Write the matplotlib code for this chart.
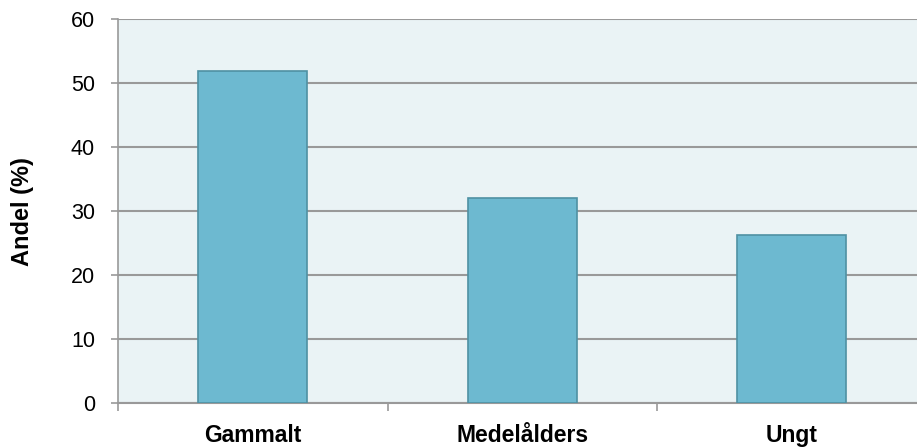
import numpy as np
import matplotlib
matplotlib.use('Agg')
import matplotlib.pyplot as plt

categories = ['Gammalt', 'Medelålders', 'Ungt']
values = [51.8, 32.1, 26.3]
yticks = [0, 10, 20, 30, 40, 50, 60]

plt.rcParams['font.family'] = ['Liberation Sans', 'DejaVu Sans']

fig = plt.figure(figsize=(9.17, 4.48), dpi=100)
# plot area runs past the right edge of the image, like the reference
ax = fig.add_axes([118 / 917, 1 - 403 / 448, 808.5 / 917, 384 / 448])
ax.set_facecolor('#EAF3F5')

x = np.arange(len(categories))
ax.bar(x, values, width=0.405, color='#6DB9D0', edgecolor='#4F91A3',
       linewidth=1.2, zorder=3)

ax.set_xlim(-0.5, len(categories) - 0.5)
ax.set_ylim(0, 60)
ax.set_yticks(yticks)
ax.yaxis.grid(True, color='#999999', linewidth=1.5, zorder=0)
ax.set_axisbelow(True)

for s in ['top', 'right']:
    ax.spines[s].set_visible(False)
ax.spines['left'].set_color('#999999')
ax.spines['left'].set_linewidth(1.2)
ax.spines['bottom'].set_color('#999999')
ax.spines['bottom'].set_linewidth(1.5)

ax.tick_params(axis='y', length=5, width=1.2, color='#999999',
               labelsize=15.5, pad=11.5)
# category ticks sit between the bars
ax.set_xticks(np.arange(len(categories) + 1) - 0.5)
ax.set_xticklabels([])
ax.tick_params(axis='x', which='major', length=6, width=1.2, color='#999999')
ax.set_xticks(x, minor=True)
ax.set_xticklabels(categories, minor=True, fontweight='bold', fontsize=16.5)
ax.tick_params(axis='x', which='minor', length=0, pad=15)

fig.text(22 / 917, 1 - 212 / 448, 'Andel (%)', rotation=90, fontweight='bold',
         fontsize=17, ha='center', va='center')

fig.savefig('out.png', dpi=100)
